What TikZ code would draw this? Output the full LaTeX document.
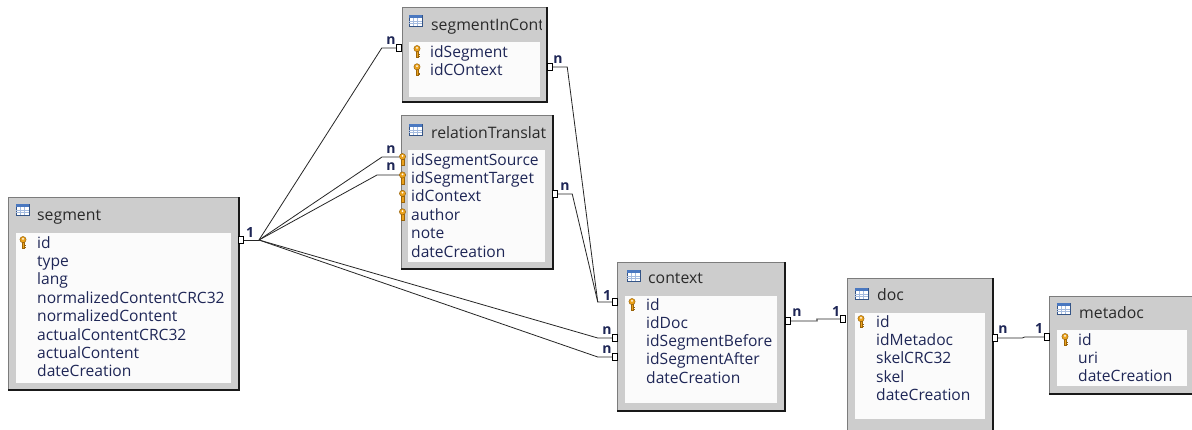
\documentclass[tikz,border=0pt]{standalone}
\usepackage{fontspec}
\setmainfont{Open Sans}
\usetikzlibrary{calc}
\definecolor{boxgray}{HTML}{CDCDCD}
\definecolor{boxline}{HTML}{7C7C7C}
\definecolor{inwhite}{HTML}{FBFBFB}
\definecolor{rowblue}{HTML}{1E2656}
\definecolor{titlegray}{HTML}{2A2A2A}
\definecolor{keyor}{HTML}{EBA21C}
\definecolor{keydk}{HTML}{9A640A}
\definecolor{icblue}{HTML}{4A78C0}
\tikzset{
 tbl/.style={draw=boxline, fill=boxgray, rectangle, inner sep=0pt, outer sep=0pt, anchor=north west, line width=0.8pt},
 inbox/.style={fill=inwhite, draw=none, rectangle, inner sep=0pt, outer sep=0pt, anchor=north west},
 rowtxt/.style={anchor=base west, inner sep=0pt, text=rowblue, font=\fontsize{15.6}{18}\selectfont},
 ttl/.style={anchor=base west, inner sep=0pt, text=titlegray, font=\fontsize{15.8}{18}\selectfont},
 card/.style={anchor=center, inner sep=0pt, text=rowblue, font=\fontsize{14}{14}\selectfont\bfseries},
 conn/.style={draw=black, fill=white, rectangle, inner sep=0pt, outer sep=0pt, minimum width=4.5pt, minimum height=7pt, line width=0.7pt},
 relline/.style={draw=black!85, line width=0.8pt},
 shadowedge/.style={draw=black!90, line width=1.8pt},
 keyic/.pic={
   \fill[keyor, draw=keydk, line width=0.4pt] (-1.2,-0.6) rectangle (1.2,5.8);
   \draw[keydk, line width=0.9pt] (1.2,3.4)--(2.5,3.4) (1.2,5.2)--(2.5,5.2);
   \fill[keyor, draw=keydk, line width=0.5pt] (0,-2.9) circle (3.1);
   \fill[white] (0,-3.6) circle (1.0);
 },
 tblic/.pic={
   \draw[fill=white, draw=icblue!70!black, line width=0.5pt] (0,0) rectangle (13,11);
   \fill[icblue] (0,0) rectangle (13,3);
   \draw[icblue!50, line width=0.5pt] (0,6)--(13,6) (0,8.5)--(13,8.5) (4.5,3)--(4.5,11) (8.7,3)--(8.7,11);
 },
}
\begin{document}
\begin{tikzpicture}[x=1pt,y=-1pt]
\useasboundingbox (0,0) rectangle (1192,429);
\fill[white] (0,0) rectangle (1192,429);
\clip (0,0) rectangle (1192,429);

% ---------- segment
\node[tbl, minimum width=231pt, minimum height=193pt] (seg) at (8,197) {};
\draw[shadowedge] (seg.north east) -- (seg.south east) -- (seg.south west);
\node[inbox, minimum width=215pt, minimum height=150pt] (segin) at (16,233) {};
\pic at (16,204) {tblic};
\node[ttl] (segt) at (37,220) {segment};
\foreach \t [count=\i] in {id,type,lang,normalizedContentCRC32,normalizedContent,actualContentCRC32,actualContent,dateCreation}
  \node[rowtxt] (seg\i) at (37,{248+18.4*(\i-1)}) {\t};
\pic at (23,242.5) {keyic};

% ---------- segmentInContext
\node[tbl, minimum width=145pt, minimum height=95pt] (sic) at (402,7) {};
\draw[shadowedge] (sic.north east) -- (sic.south east) -- (sic.south west);
\node[inbox, minimum width=131pt, minimum height=55pt] (sicin) at (409,42) {};
\pic at (409,15) {tblic};
\begin{scope}
\clip (409,8) rectangle (541,41);
\node[ttl] (sict) at (431,30) {segmentInContext};
\end{scope}
\foreach \t [count=\i] in {idSegment,idCOntext}
  \node[rowtxt] (sic\i) at (430,{57+18.2*(\i-1)}) {\t};
\foreach \i in {1,2} \pic at (417,{51.5+18.2*(\i-1)}) {keyic};

% ---------- relationTranslation
\node[tbl, minimum width=152pt, minimum height=154pt] (rel) at (401,115) {};
\draw[shadowedge] (rel.north east) -- (rel.south east) -- (rel.south west);
\node[inbox, minimum width=137pt, minimum height=112pt] (relin) at (408,150) {};
\pic at (409,124) {tblic};
\begin{scope}
\clip (409,116) rectangle (545,149);
\node[ttl] (relt) at (431,138) {relationTranslation};
\end{scope}
\foreach \t [count=\i] in {idSegmentSource,idSegmentTarget,idContext,author,note,dateCreation}
  \node[rowtxt] (rel\i) at (411,{165+18.4*(\i-1)}) {\t};
\foreach \i in {1,...,4} \pic at (402.5,{159.5+18.4*(\i-1)}) {keyic};

% ---------- context
\node[tbl, minimum width=168pt, minimum height=149pt] (ctx) at (617,262) {};
\draw[shadowedge] (ctx.north east) -- (ctx.south east) -- (ctx.south west);
\node[inbox, minimum width=152pt, minimum height=107pt] (ctxin) at (625,296) {};
\pic at (627,270) {tblic};
\node[ttl] (ctxt) at (648,283) {context};
\foreach \t [count=\i] in {id,idDoc,idSegmentBefore,idSegmentAfter,dateCreation}
  \node[rowtxt] (ctx\i) at (646,{310+18.3*(\i-1)}) {\t};
\pic at (632,304.5) {keyic};

% ---------- doc
\node[tbl, minimum width=146pt, minimum height=170pt] (doc) at (847,278) {};
\draw[shadowedge] (doc.north east) -- (doc.south east) -- (doc.south west);
\node[inbox, minimum width=130pt, minimum height=106pt] (docin) at (855,313) {};
\pic at (855,288) {tblic};
\node[ttl] (doct) at (877,300) {doc};
\foreach \t [count=\i] in {id,idMetadoc,skelCRC32,skel,dateCreation}
  \node[rowtxt] (doc\i) at (876,{327+18.4*(\i-1)}) {\t};
\pic at (861,321.5) {keyic};

% ---------- metadoc
\node[tbl, minimum width=150pt, minimum height=98pt] (meta) at (1049,296) {};
\draw[shadowedge] (meta.north east) -- (meta.south east) -- (meta.south west);
\node[inbox, minimum width=130pt, minimum height=56pt] (metain) at (1057,330) {};
\pic at (1057,303) {tblic};
\node[ttl] (metat) at (1079,318) {metadoc};
\foreach \t [count=\i] in {id,uri,dateCreation}
  \node[rowtxt] (meta\i) at (1078,{345+18.4*(\i-1)}) {\t};
\pic at (1065,339.5) {keyic};

% ---------- connector ends
\coordinate (fan) at (259,240);
\coordinate (rl1) at (399,157);
\coordinate (rl2) at (399,175);
\node[conn] (cseg) at (241,240) {};
\node[conn] (csic) at (399,48) {};
\node[conn] (cctx1) at (615,302) {};
\node[conn] (cctx2) at (615,338) {};
\node[conn] (cctx3) at (615,357) {};
\node[conn] (csicr) at (550,67) {};
\node[conn] (crelr) at (555,194) {};
\node[conn] (cctxr) at (788,321) {};
\node[conn] (cdocl) at (843,319) {};
\node[conn] (cdocr) at (995,338) {};
\node[conn] (cmeta) at (1047,337) {};

% ---------- connectors
\draw[relline] (cseg.east) -- (fan);
\draw[relline] (fan) -- ([xshift=-15pt]csic.west) -- (csic.west);
\draw[relline] (fan) -- ([xshift=-17pt]rl1) -- (rl1);
\draw[relline] (fan) -- ([xshift=-22pt]rl2) -- (rl2);
\draw[relline] (fan) -- ([xshift=-15pt]cctx2.west) -- (cctx2.west);
\draw[relline] (fan) -- ([xshift=-15pt]cctx3.west) -- (cctx3.west);
\draw[relline] (csicr.east) -- ([xshift=15pt]csicr.east) -- ([xshift=-15pt]cctx1.west) -- (cctx1.west);
\draw[relline] (crelr.east) -- ([xshift=15pt]crelr.east) -- ([xshift=-15pt]cctx1.west);
\draw[relline] (cctxr.east) -- ([xshift=27pt]cctxr.east) -- ([xshift=-24pt]cdocl.west) -- (cdocl.west);
\draw[relline] (cdocr.east) -- ([xshift=25pt]cdocr.east) -- ([xshift=-20pt]cmeta.west) -- (cmeta.west);
% redraw squares on top
\foreach \n in {cseg,csic,cctx1,cctx2,cctx3,csicr,crelr,cctxr,cdocl,cdocr,cmeta}
  \draw[draw=black, fill=white, line width=0.7pt] (\n.north west) rectangle (\n.south east);

% ---------- cardinality labels
\node[card] (l1) at (250,232) {1};
\node[card] (l2) at (391,41) {n};
\node[card] (l3) at (391,150) {n};
\node[card] (l4) at (391,167) {n};
\node[card] (l5) at (607,295) {1};
\node[card] (l6) at (607,331) {n};
\node[card] (l7) at (607,350) {n};
\node[card] (l8) at (558,60) {n};
\node[card] (l9) at (565,187) {n};
\node[card] (l10) at (797,313) {n};
\node[card] (l11) at (836,311) {1};
\node[card] (l12) at (1003,330) {n};
\node[card] (l13) at (1039,328) {1};
\end{tikzpicture}
\end{document}
